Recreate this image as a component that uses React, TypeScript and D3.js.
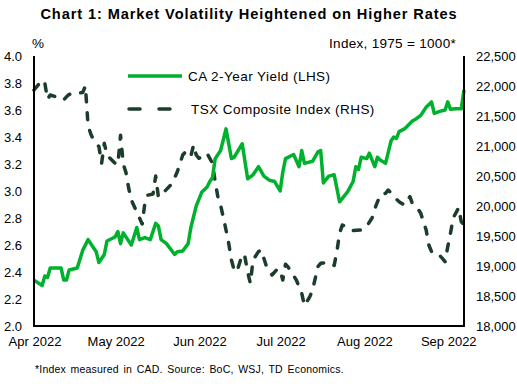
import React from 'react';
import * as d3 from 'd3';

// CA 2-year yield, % (LHS)
const yieldSeries: [string, number][] = [
	['2022-04-01', 2.34], ['2022-04-04', 2.30], ['2022-04-05', 2.37], ['2022-04-06', 2.36],
	['2022-04-07', 2.43], ['2022-04-11', 2.43], ['2022-04-12', 2.34], ['2022-04-13', 2.34],
	['2022-04-14', 2.415], ['2022-04-17', 2.43], ['2022-04-19', 2.56], ['2022-04-21', 2.64],
	['2022-04-24', 2.55], ['2022-04-25', 2.47], ['2022-04-27', 2.53], ['2022-04-28', 2.63],
	['2022-04-30', 2.65], ['2022-05-01', 2.66], ['2022-05-02', 2.70], ['2022-05-03', 2.61],
	['2022-05-04', 2.69], ['2022-05-07', 2.60], ['2022-05-09', 2.73], ['2022-05-10', 2.64],
	['2022-05-12', 2.655], ['2022-05-14', 2.64], ['2022-05-16', 2.76], ['2022-05-17', 2.74],
	['2022-05-18', 2.64], ['2022-05-20', 2.61], ['2022-05-23', 2.53], ['2022-05-24', 2.55],
	['2022-05-26', 2.555], ['2022-05-28', 2.61], ['2022-05-29', 2.73], ['2022-05-31', 2.89],
	['2022-06-02', 2.99], ['2022-06-04', 3.03], ['2022-06-05', 3.07], ['2022-06-06', 3.10],
	['2022-06-07', 3.24], ['2022-06-09', 3.30], ['2022-06-11', 3.46], ['2022-06-13', 3.24],
	['2022-06-14', 3.25], ['2022-06-17', 3.35], ['2022-06-19', 3.09], ['2022-06-21', 3.12],
	['2022-06-23', 3.18], ['2022-06-25', 3.11], ['2022-06-27', 3.08], ['2022-06-29', 3.07],
	['2022-07-01', 3.00], ['2022-07-02', 3.14], ['2022-07-03', 3.24], ['2022-07-06', 3.27],
	['2022-07-08', 3.18], ['2022-07-09', 3.30], ['2022-07-10', 3.205], ['2022-07-13', 3.22],
	['2022-07-15', 3.29], ['2022-07-16', 3.30], ['2022-07-17', 3.06], ['2022-07-19', 3.11],
	['2022-07-21', 3.12], ['2022-07-23', 2.92], ['2022-07-26', 2.995], ['2022-07-28', 3.07],
	['2022-07-29', 3.18], ['2022-07-30', 3.16], ['2022-07-31', 3.25], ['2022-08-02', 3.24],
	['2022-08-03', 3.28], ['2022-08-05', 3.18], ['2022-08-06', 3.25], ['2022-08-07', 3.23],
	['2022-08-09', 3.205], ['2022-08-11', 3.37], ['2022-08-12', 3.40], ['2022-08-13', 3.39],
	['2022-08-14', 3.44], ['2022-08-16', 3.46], ['2022-08-18', 3.50], ['2022-08-19', 3.52],
	['2022-08-20', 3.53], ['2022-08-22', 3.56], ['2022-08-24', 3.62], ['2022-08-26', 3.66],
	['2022-08-27', 3.575], ['2022-08-29', 3.59], ['2022-08-31', 3.60], ['2022-09-01', 3.66],
	['2022-09-02', 3.605], ['2022-09-04', 3.61], ['2022-09-06', 3.61], ['2022-09-07', 3.75],
];

// TSX composite index (RHS)
const tsxSeries: [string, number][] = [
	['2022-04-01', 21933], ['2022-04-04', 22100], ['2022-04-05', 22050], ['2022-04-06', 21780],
	['2022-04-07', 21850], ['2022-04-09', 21822], ['2022-04-12', 21770], ['2022-04-13', 21820],
	['2022-04-14', 21860], ['2022-04-16', 21880], ['2022-04-19', 21890], ['2022-04-20', 22000],
	['2022-04-21', 21340], ['2022-04-22', 21200], ['2022-04-23', 21100], ['2022-04-25', 20990],
	['2022-04-26', 20712], ['2022-04-27', 21045], ['2022-04-28', 20850], ['2022-04-29', 20800],
	['2022-05-01', 20712], ['2022-05-02', 20690], ['2022-05-03', 21180], ['2022-05-04', 20700],
	['2022-05-05', 20560], ['2022-05-06', 20300], ['2022-05-07', 20100], ['2022-05-09', 19900],
	['2022-05-10', 19800], ['2022-05-11', 19700], ['2022-05-12', 20050], ['2022-05-13', 20180],
	['2022-05-15', 20200], ['2022-05-16', 20500], ['2022-05-17', 20150], ['2022-05-19', 20230],
	['2022-05-22', 20370], ['2022-05-24', 20570], ['2022-05-26', 20850], ['2022-05-27', 20900],
	['2022-05-28', 20830], ['2022-05-29', 20830], ['2022-05-30', 21017], ['2022-05-31', 20850],
	['2022-06-01', 20795], ['2022-06-03', 20850], ['2022-06-04', 20878], ['2022-06-06', 20712],
	['2022-06-07', 20400], ['2022-06-08', 20150], ['2022-06-09', 20017], ['2022-06-11', 19600],
	['2022-06-12', 19378], ['2022-06-13', 19100], ['2022-06-14', 18933], ['2022-06-15', 18905],
	['2022-06-16', 19045], ['2022-06-17', 19200], ['2022-06-18', 19150], ['2022-06-19', 18900],
	['2022-06-20', 18712], ['2022-06-21', 19100], ['2022-06-23', 19240], ['2022-06-24', 19267],
	['2022-06-26', 18988], ['2022-06-28', 18850], ['2022-06-30', 18950], ['2022-07-01', 18930],
	['2022-07-02', 18767], ['2022-07-03', 19030], ['2022-07-04', 18980], ['2022-07-07', 18767],
	['2022-07-09', 18545], ['2022-07-10', 18340], ['2022-07-12', 18490], ['2022-07-13', 18600],
	['2022-07-15', 18990], ['2022-07-16', 19045], ['2022-07-19', 19060], ['2022-07-21', 19010],
	['2022-07-22', 19238], ['2022-07-23', 19550], ['2022-07-24', 19683], ['2022-07-26', 19640],
	['2022-07-28', 19590], ['2022-07-31', 19600], ['2022-08-02', 19660], ['2022-08-04', 19800],
	['2022-08-05', 19950], ['2022-08-07', 20183], ['2022-08-09', 20212], ['2022-08-10', 20267],
	['2022-08-12', 20155], ['2022-08-14', 20072], ['2022-08-16', 20017], ['2022-08-18', 20155],
	['2022-08-19', 20030], ['2022-08-21', 19950], ['2022-08-22', 19880], ['2022-08-24', 19600],
	['2022-08-25', 19350], ['2022-08-26', 19238], ['2022-08-28', 19225], ['2022-08-30', 19128],
	['2022-08-31', 19072], ['2022-09-01', 19322], ['2022-09-02', 19545], ['2022-09-03', 19800],
	['2022-09-05', 19970], ['2022-09-06', 19738], ['2022-09-07', 19683],
];

const leftTicks = [2.0, 2.2, 2.4, 2.6, 2.8, 3.0, 3.2, 3.4, 3.6, 3.8, 4.0];
const rightTicks = [18000, 18500, 19000, 19500, 20000, 20500, 21000, 21500, 22000, 22500];
const monthTicks = ['2022-04-01', '2022-05-01', '2022-06-01', '2022-07-01', '2022-08-01', '2022-09-01'];
const xDomain = ['2022-04-01', '2022-09-07'];

const GREEN = '#00b12d';
const DARK = '#1c3d2b';
const FONT = 'Arial, "Liberation Sans", sans-serif';

export default function App() {
	const width = 517;
	const height = 386;
	const margin = { left: 34, right: 53, top: 56, bottom: 60 };

	const parse = d3.timeParse('%Y-%m-%d');
	const fmtMonth = d3.timeFormat('%b %Y');
	const fmtComma = d3.format(',');

	const x = d3.scaleTime()
		.domain(xDomain.map(d => parse(d) as Date))
		.range([margin.left, width - margin.right]);
	const yL = d3.scaleLinear().domain([2, 4]).range([height - margin.bottom, margin.top]);
	const yR = d3.scaleLinear().domain([18000, 22500]).range([height - margin.bottom, margin.top]);

	const lineL = d3.line<[string, number]>()
		.x(d => x(parse(d[0]) as Date))
		.y(d => yL(d[1]));
	const lineR = d3.line<[string, number]>()
		.x(d => x(parse(d[0]) as Date))
		.y(d => yR(d[1]));

	const x0 = margin.left;
	const x1 = width - margin.right;
	const yTop = margin.top;
	const yBot = height - margin.bottom;

	return (
		<svg width={width} height={height} style={{ position: 'absolute', left: 0, top: 0, background: '#fff' }}
			fontFamily={FONT}>
			<text x={249} y={19} textAnchor="middle" fontSize={14.6} fontWeight="bold" fill="#000"
				letterSpacing={0.9}>
				Chart 1: Market Volatility Heightened on Higher Rates
			</text>
			<text x={32} y={48} fontSize={13.5} fill="#000">%</text>
			<text x={456} y={48} fontSize={13.5} fill="#000" textAnchor="end" letterSpacing={0.3}>
				Index, 1975 = 1000*
			</text>

			{/* series */}
			<path d={lineR(tsxSeries) || ''} fill="none" stroke={DARK} strokeWidth={3.5}
				strokeDasharray="7 11" strokeLinecap="round" strokeLinejoin="round" />
			<path d={lineL(yieldSeries) || ''} fill="none" stroke={GREEN} strokeWidth={3.5}
				strokeLinejoin="round" />

			{/* axes */}
			<line x1={x0} x2={x0} y1={yTop} y2={yBot + 1} stroke="#000" strokeWidth={2} />
			<line x1={x1} x2={x1} y1={yTop} y2={yBot + 1} stroke="#000" strokeWidth={2} />
			<line x1={x0 - 1} x2={x1 + 1} y1={yBot} y2={yBot} stroke="#000" strokeWidth={2} />

			{leftTicks.map(t => (
				<text key={t} x={22} y={yL(t)} dy="0.35em" textAnchor="end" fontSize={13} fill="#000">
					{t.toFixed(1)}
				</text>
			))}
			{rightTicks.map(t => (
				<text key={t} x={476} y={yR(t)} dy="0.35em" fontSize={13} fill="#000">
					{fmtComma(t)}
				</text>
			))}
			{monthTicks.map(m => {
				const d = parse(m) as Date;
				return (
					<text key={m} x={x(d) + 1} y={346} textAnchor="middle" fontSize={13} fill="#000">
						{fmtMonth(d)}
					</text>
				);
			})}

			{/* legend */}
			<line x1={128} x2={182} y1={76} y2={76} stroke={GREEN} strokeWidth={3.5} />
			<text x={188} y={76} dy="0.35em" fontSize={13.5} fill="#000" letterSpacing={0.45}>
				CA 2-Year Yield (LHS)
			</text>
			<line x1={129} x2={180} y1={109} y2={109} stroke={DARK} strokeWidth={3.5}
				strokeDasharray="11 19" strokeLinecap="round" />
			<text x={191} y={109} dy="0.35em" fontSize={13.5} fill="#000" letterSpacing={0.45}>
				TSX Composite Index (RHS)
			</text>

			<text x={35} y={373} fontSize={10.5} fill="#000" wordSpacing={1.5} letterSpacing={0.2}>
				*Index measured in CAD. Source: BoC, WSJ, TD Economics.
			</text>
		</svg>
	);
}
